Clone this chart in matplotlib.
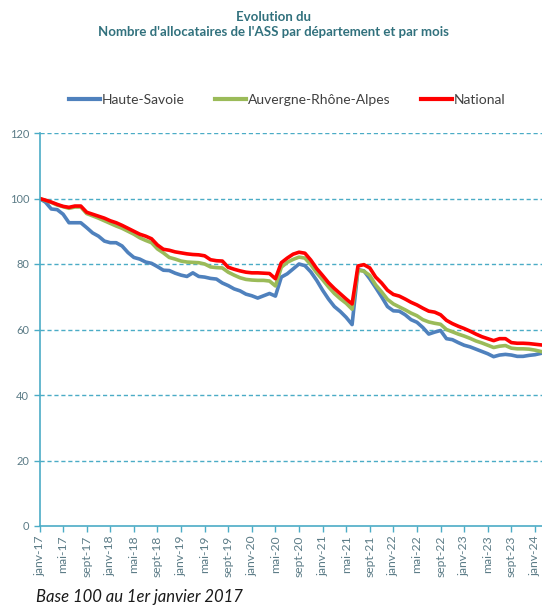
"""
Evolution du nombre d'allocataires de l'ASS (base 100 janvier 2017)
"""
import numpy
import matplotlib
matplotlib.use('Agg')
import matplotlib.pyplot as plt

plt.rcParams['font.family'] = ['Lato', 'DejaVu Sans']

# monthly values, janv-17 .. fevr-24
haute_savoie = [
    100, 98.9, 96.8, 96.6, 95.2, 92.6, 92.6, 92.6, 91.1, 89.5,
    88.5, 87.0, 86.5, 86.5, 85.5, 83.5, 82.0, 81.5, 80.6, 80.2,
    79.2, 78.1, 78.0, 77.2, 76.6, 76.2, 77.3, 76.2, 76.0, 75.6,
    75.4, 74.2, 73.4, 72.4, 71.8, 70.8, 70.3, 69.6, 70.3, 71.0,
    70.2, 76.0, 77.0, 78.5, 80.0, 79.5, 77.6, 75.0, 72.0, 69.3,
    67.0, 65.5, 63.7, 61.5, 78.3, 77.9, 75.5, 72.8, 70.0, 67.0,
    65.7, 65.6, 64.5, 63.0, 62.2, 60.6, 58.6, 59.2, 59.7, 57.2,
    56.9, 56.0, 55.2, 54.7, 54.0, 53.3, 52.6, 51.7, 52.2, 52.4,
    52.2, 51.8, 51.8, 52.1, 52.3, 52.7]
auvergne_rhone_alpes = [
    100, 99.4, 98.8, 98.0, 97.5, 97.0, 97.4, 97.4, 95.4, 94.7,
    94.0, 93.2, 92.4, 91.6, 90.9, 90.0, 89.1, 88.0, 87.2, 86.5,
    84.6, 83.4, 82.0, 81.5, 80.9, 80.6, 80.5, 80.4, 80.0, 79.1,
    78.9, 78.8, 77.5, 76.6, 75.8, 75.3, 75.1, 75.0, 75.0, 74.8,
    73.3, 79.0, 80.5, 81.4, 82.1, 81.8, 79.8, 77.3, 75.2, 73.0,
    71.0, 69.4, 68.0, 66.2, 78.1, 77.8, 76.5, 73.6, 71.5, 69.2,
    67.8, 66.9, 66.0, 65.0, 64.2, 63.0, 62.3, 61.9, 61.6, 60.0,
    59.3, 58.6, 58.0, 57.3, 56.5, 55.9, 55.2, 54.5, 54.9, 55.1,
    54.3, 54.1, 54.1, 54.0, 53.7, 53.3]
national = [
    100, 99.5, 98.9, 98.2, 97.6, 97.3, 97.7, 97.7, 95.8, 95.2,
    94.6, 94.0, 93.2, 92.6, 91.8, 90.9, 90.0, 89.1, 88.5, 87.7,
    85.8, 84.5, 84.2, 83.7, 83.4, 83.1, 82.9, 82.8, 82.5, 81.3,
    81.0, 80.9, 79.0, 78.4, 77.9, 77.5, 77.3, 77.3, 77.2, 77.1,
    75.5, 80.4, 81.8, 83.0, 83.6, 83.3, 81.2, 78.6, 76.5, 74.3,
    72.5, 70.9, 69.3, 67.8, 79.4, 79.8, 78.8, 76.0, 74.2, 72.0,
    70.7, 70.2, 69.3, 68.3, 67.5, 66.5, 65.6, 65.3, 64.5, 62.8,
    61.8, 61.0, 60.3, 59.5, 58.6, 57.8, 57.2, 56.6, 57.2, 57.2,
    56.0, 55.8, 55.8, 55.7, 55.5, 55.3]

tick_months = ['janv', 'mai', 'sept']
tick_years = list(range(17, 25))

teal = '#4BACC6'
label_color = '#5B7B86'

x = numpy.arange(len(national))
tick_pos = numpy.arange(0, len(national), 4)
tick_labels = ['{:}-{:}'.format(tick_months[k % 3], tick_years[k // 3])
               for k in range(len(tick_pos))]

fig = plt.figure(figsize=(5.42, 6.05), dpi=100)
ax = fig.add_axes([39.5 / 542, 1 - 526 / 605, 502.5 / 542, 393 / 605])

ax.plot(x, haute_savoie, color='#4F81BD', lw=2.6, label='Haute-Savoie',
        solid_joinstyle='round')
ax.plot(x, auvergne_rhone_alpes, color='#9BBB59', lw=2.6,
        label='Auvergne-Rhône-Alpes', solid_joinstyle='round')
ax.plot(x, national, color='#FF0000', lw=2.6, label='National',
        solid_joinstyle='round')

ax.set_xlim(0, 85.2)
ax.set_ylim(0, 120)
ax.set_yticks(range(0, 121, 20))
ax.set_xticks(tick_pos)
ax.set_xticklabels(tick_labels, rotation=90, fontsize=8.7, color=label_color)
ax.tick_params(axis='y', labelsize=8, labelcolor=label_color, color=teal,
               length=4, width=1)
ax.tick_params(axis='x', color=teal, length=4, width=1, pad=3)
for v in range(20, 121, 20):
    ax.axhline(v, color=teal, lw=1, ls=(0, (3, 2)), zorder=0)
for s in ['top', 'right']:
    ax.spines[s].set_visible(False)
for s in ['left', 'bottom']:
    ax.spines[s].set_color(teal)
    ax.spines[s].set_linewidth(1.2)

fig.text(0.505, 1 - 17 / 605, 'Evolution du', ha='center', va='center',
         fontsize=9.5, fontweight='bold', color='#31717D')
fig.text(0.505, 1 - 32 / 605,
         "Nombre d'allocataires de l'ASS par département et par mois",
         ha='center', va='center', fontsize=9.5, fontweight='bold',
         color='#31717D')

leg = fig.legend(loc='center', bbox_to_anchor=(0.530, 1 - 100 / 605), ncol=3,
                 frameon=False, handlelength=2.2, handletextpad=0.15,
                 columnspacing=2.2, fontsize=10, labelcolor='#404040')
for h in leg.get_lines():
    h.set_linewidth(3)

fig.text(36 / 542, 1 - 597 / 605, 'Base 100 au 1er janvier 2017',
         ha='left', va='center', fontsize=12, style='italic', color='#1a1a1a')

fig.savefig('out.png', dpi=100)
